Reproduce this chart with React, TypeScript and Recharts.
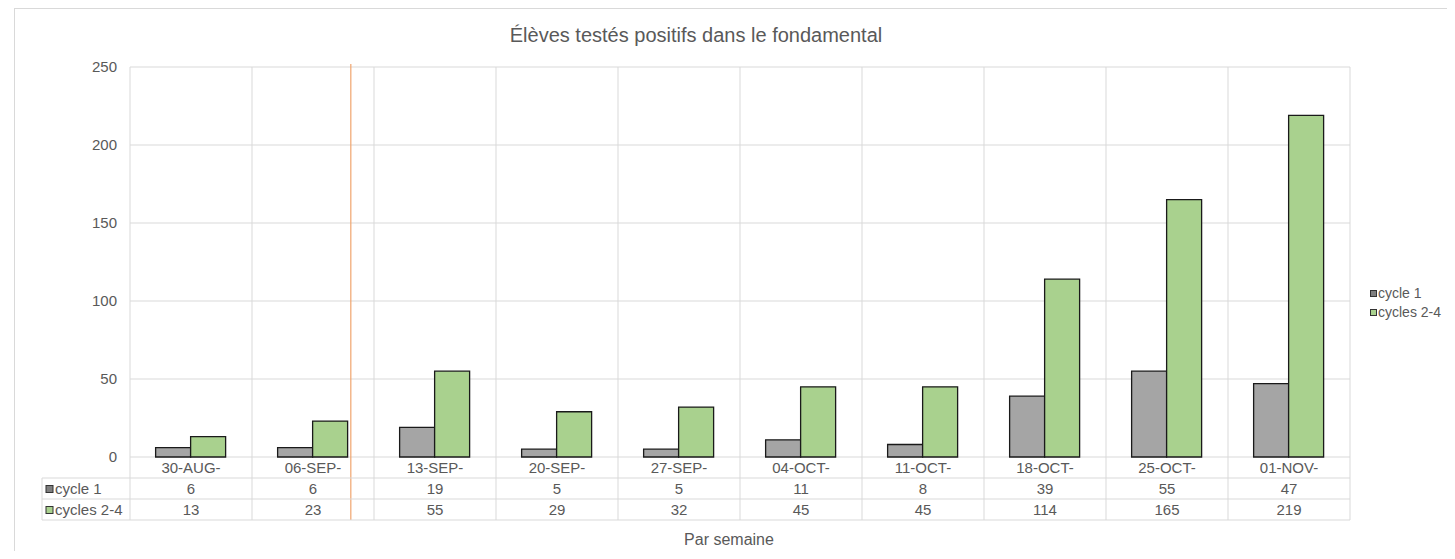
import React from 'react';
import { BarChart, Bar, XAxis, YAxis, CartesianGrid, ReferenceLine } from 'recharts';

const categories = ['30-AUG-', '06-SEP-', '13-SEP-', '20-SEP-', '27-SEP-', '04-OCT-', '11-OCT-', '18-OCT-', '25-OCT-', '01-NOV-'];
const cycle1 = [6, 6, 19, 5, 5, 11, 8, 39, 55, 47];
const cycles24 = [13, 23, 55, 29, 32, 45, 45, 114, 165, 219];
const yTicks = [0, 50, 100, 150, 200, 250];
const markerCategory = '06-SEP-';
const markerOffset = 0.31; // fraction of a category width past the category centre

const seriesNames = ['cycle 1', 'cycles 2-4'];
const GRAY = '#a5a5a5';
const GREEN = '#a9d18e';
const TEXT = '#595959';
const GRID = '#d9d9d9';
const FONT = '"Liberation Sans", Arial, sans-serif';
const FS = 15;

const data = categories.map((c, i) => ({ name: c, c1: cycle1[i], c24: cycles24[i] }));

const CHART_W = 1439;
const CHART_H = 543;
const MARGIN = { top: 59, right: 97, left: 62, bottom: 0 };
const Y_W = 60;
const PLOT_W = CHART_W - MARGIN.left - MARGIN.right - Y_W;
const CELL_W = PLOT_W / categories.length;
const ROW_H = 21;
const HEAD_W = 88;

const TableTick = (props: any) => {
  const { x, y, payload } = props;
  const i = payload.index;
  const left = x - CELL_W / 2;
  const right = x + CELL_W / 2;
  const rows = [cycle1[i], cycles24[i]];
  const base = ROW_H / 2 + 5;
  return (
    <g fontFamily={FONT} fontSize={FS} fill={TEXT}>
      <text x={x} y={y + base} textAnchor="middle" fill={TEXT}>{payload.value}</text>
      {rows.map((v, r) => (
        <text key={r} x={x} y={y + ROW_H * (r + 1) + base} textAnchor="middle" fill={TEXT}>{v}</text>
      ))}
      {[1, 2, 3].map((r) => (
        <line key={r} x1={left} x2={right} y1={y + ROW_H * r} y2={y + ROW_H * r} stroke={GRID} />
      ))}
      <line x1={right} x2={right} y1={y} y2={y + ROW_H * 3} stroke={GRID} />
      {i === 0 && (
        <g>
          <line x1={left} x2={left} y1={y} y2={y + ROW_H * 3} stroke={GRID} />
          <line x1={left - HEAD_W} x2={left - HEAD_W} y1={y + ROW_H} y2={y + ROW_H * 3} stroke={GRID} />
          {[1, 2, 3].map((r) => (
            <line key={r} x1={left - HEAD_W} x2={left} y1={y + ROW_H * r} y2={y + ROW_H * r} stroke={GRID} />
          ))}
          {seriesNames.map((n, r) => (
            <g key={n}>
              <rect x={left - HEAD_W + 4} y={y + ROW_H * (r + 1) + ROW_H / 2 - 3} width={7} height={7} fill={r === 0 ? '#7f7f7f' : GREEN} stroke="#333" strokeWidth={1} />
              <text x={left - HEAD_W + 13} y={y + ROW_H * (r + 1) + base} fill={TEXT}>{n}</text>
            </g>
          ))}
        </g>
      )}
    </g>
  );
};

const MarkerLine = (props: any) => {
  const { x1, y1, y2 } = props;
  const top = Math.min(y1, y2);
  const bottom = Math.max(y1, y2);
  const x = x1 + markerOffset * CELL_W;
  return <line x1={x} x2={x} y1={top - 3} y2={bottom + ROW_H * 3} stroke="#f0a46e" strokeWidth={1.2} />;
};

const boundaryGenerator = ({ offset }: any) =>
  Array.from({ length: categories.length + 1 }, (_, k) => offset.left + (k * offset.width) / categories.length);

export default function App() {
  return (
    <div style={{ position: 'relative', width: CHART_W, height: CHART_H, fontFamily: FONT }}>
      <div style={{ position: 'absolute', left: 6, top: 0, width: CHART_W - 6, height: CHART_H, borderLeft: '1px solid #d9d9d9', borderTop: '1px solid #d9d9d9', boxSizing: 'border-box' }} />
      <div style={{ position: 'absolute', left: 388, top: 16, width: 600, textAlign: 'center', fontSize: 20, color: TEXT, lineHeight: '22px' }}>
        Élèves testés positifs dans le fondamental
      </div>
      <BarChart width={CHART_W} height={CHART_H} data={data} margin={MARGIN} barCategoryGap="21%" barGap={0}>
        <CartesianGrid stroke={GRID} vertical={true} horizontal={true} verticalCoordinatesGenerator={boundaryGenerator} />
        <XAxis dataKey="name" height={94} axisLine={false} tickLine={false} tickSize={0} tickMargin={0} interval={0} tick={<TableTick />} />
        <YAxis width={Y_W} domain={[0, 250]} ticks={yTicks} axisLine={false} tickLine={false} tickSize={0} tickMargin={13} tick={{ fill: TEXT, fontSize: FS, fontFamily: FONT }} />
        <Bar dataKey="c1" name={seriesNames[0]} fill={GRAY} stroke="#1a1a1a" strokeWidth={1.3} isAnimationActive={false} />
        <Bar dataKey="c24" name={seriesNames[1]} fill={GREEN} stroke="#1a1a1a" strokeWidth={1.3} isAnimationActive={false} />
        <ReferenceLine x={markerCategory} shape={<MarkerLine />} />
      </BarChart>
      <div style={{ position: 'absolute', left: 721, top: 523, fontSize: 16, lineHeight: '18px', color: TEXT, transform: 'translateX(-50%)', whiteSpace: 'nowrap' }}>Par semaine</div>
      <div style={{ position: 'absolute', left: 1362, top: 276, fontSize: 14, lineHeight: '19px', color: TEXT, whiteSpace: 'nowrap' }}>
        {seriesNames.map((n, r) => (
          <div key={n} style={{ display: 'flex', alignItems: 'center', height: 19 }}>
            <span style={{ display: 'inline-block', width: 5, height: 5, background: r === 0 ? '#7f7f7f' : GREEN, border: '1px solid #333', marginRight: 1 }} />
            {n}
          </div>
        ))}
      </div>
    </div>
  );
}
